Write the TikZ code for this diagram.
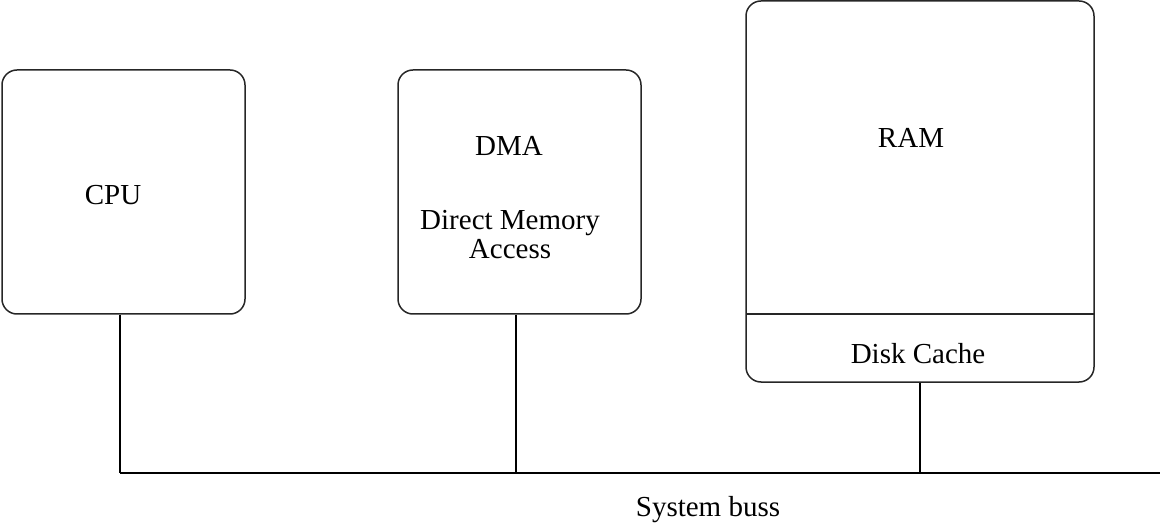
\documentclass[tikz,border=0pt]{standalone}
\usepackage{fontspec}
\setmainfont{Liberation Serif}
\begin{document}
\begin{tikzpicture}[x=0.5pt,y=-0.5pt,
  box/.style={draw=black!85, line width=0.75pt, rounded corners=7.5pt, rectangle, inner sep=0pt},
  lbl/.style={font=\fontsize{14.5}{14.5}\selectfont, inner sep=0pt, align=center},
  wire/.style={draw=black, line width=1.2pt}]
\useasboundingbox (0,0) rectangle (1160,523);
\node[box, minimum width=121.5pt, minimum height=122pt] (cpu) at (123.5,192) {};
\node[box, minimum width=121.5pt, minimum height=122pt] (dma) at (519.5,192) {};
\node[box, minimum width=174pt, minimum height=190.5pt] (ram) at (920,191.5) {};
\coordinate (divL) at (746,314);
\coordinate (divR) at (1094,314);
\draw[draw=black!85, line width=0.75pt] (divL) -- (divR);
\node[lbl] (cputxt) at (113,195) {CPU};
\node[lbl] (dmatxt) at (509,146) {DMA};
\node[lbl] (dmalong) at (510,235) {Direct Memory\\Access};
\node[lbl] (ramtxt) at (911,138) {RAM};
\node[lbl] (cachetxt) at (918,354) {Disk Cache};
\node[lbl] (bustxt) at (708,510) {System buss};
\coordinate (busL) at (120,473);
\coordinate (busR) at (1160,473);
\coordinate (dmaJ) at (516,473);
\draw[wire] (busL) -- (busR);
\draw[wire] (cpu.south -| busL) -- (busL);
\draw[wire] (dma.south -| dmaJ) -- (dmaJ);
\draw[wire] (ram.south) -- (ram.south |- busL);
\end{tikzpicture}
\end{document}
